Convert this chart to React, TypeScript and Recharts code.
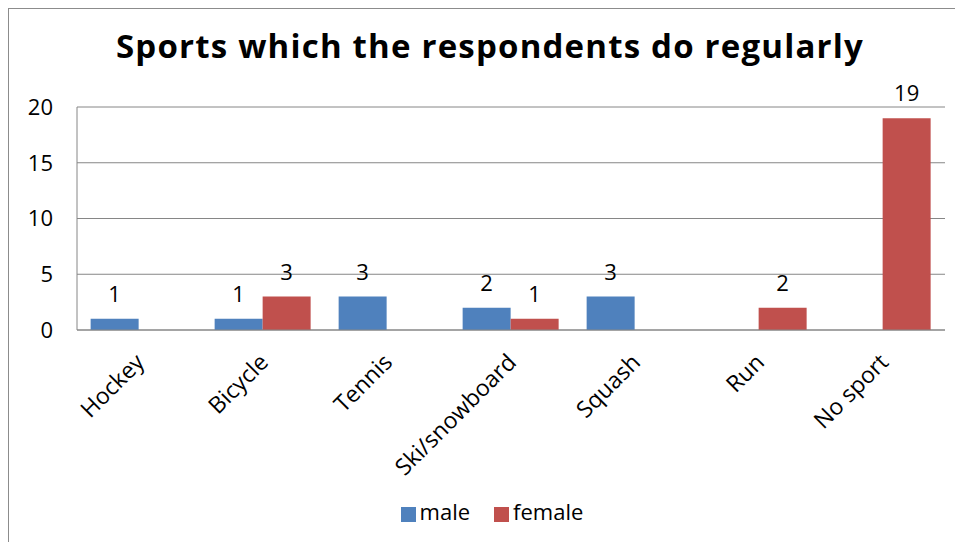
import React from 'react';
import { BarChart, Bar, XAxis, YAxis, CartesianGrid, Legend, LabelList } from 'recharts';

const categories = ['Hockey', 'Bicycle', 'Tennis', 'Ski/snowboard', 'Squash', 'Run', 'No sport'];
const maleValues = [1, 1, 3, 2, 3, null, null];
const femaleValues = [null, 3, null, 1, null, 2, 19];
const yTicks = [0, 5, 10, 15, 20];
const title = 'Sports which the respondents do regularly';

const data = categories.map((c, i) => ({ name: c, male: maleValues[i], female: femaleValues[i] }));

const FONT = '"Open Sans", Lato, sans-serif';
const MALE = '#4F81BD';
const FEMALE = '#C0504D';
const GRID = '#868686';
const seriesOrder = ['male', 'female'];

const XTick = (props: any) => {
  const { x, y, payload } = props;
  return (
    <g transform={`translate(${x + 1},${y + 20})`}>
      <text transform="rotate(-45)" textAnchor="end" fontSize={23} fill="#000" fontFamily={FONT} dy="0.35em">
        {payload.value}
      </text>
    </g>
  );
};

const fmt = (v: any) => (v ? v : '');

export default function App() {
  return (
    <div
      style={{
        position: 'relative',
        width: 954,
        height: 533,
        borderLeft: '1px solid #8c8c8c',
        borderTop: '1px solid #8c8c8c',
        background: '#fff',
        fontFamily: FONT,
      }}
    >
      <div
        style={{
          position: 'absolute',
          top: 17,
          left: 4,
          width: 954,
          textAlign: 'center',
          fontSize: 33,
          letterSpacing: 1.2,
          lineHeight: 1.2,
          fontWeight: 700,
          color: '#000',
          fontFamily: FONT,
          zIndex: 2,
        }}
      >
        {title}
      </div>
      <BarChart
        width={954}
        height={533}
        data={data}
        margin={{ top: 98, right: 18, left: 0, bottom: 16 }}
        barGap={0}
        barCategoryGap="11%"
      >
        <CartesianGrid vertical={false} stroke={GRID} />
        <XAxis
          dataKey="name"
          height={166}
          interval={0}
          tickLine={false}
          axisLine={{ stroke: GRID }}
          tick={<XTick />}
        />
        <YAxis
          width={68}
          domain={[0, 20]}
          ticks={yTicks}
          tickLine={false}
          tickMargin={18}
          axisLine={{ stroke: GRID }}
          tick={{ fontSize: 22, fill: '#000', fontFamily: FONT }}
        />
        <Legend
          verticalAlign="bottom"
          align="center"
          iconType="square"
          iconSize={15}
          itemSorter={(item: any) => seriesOrder.indexOf(item.dataKey)}
          wrapperStyle={{ fontSize: 22, fontFamily: FONT, height: 30, paddingLeft: 27 }}
          formatter={(value: any) => <span style={{ color: '#000', marginRight: 14 }}>{value}</span>}
        />
        <Bar dataKey="male" name="male" fill={MALE} isAnimationActive={false}>
          <LabelList dataKey="male" position="top" offset={17} formatter={fmt} style={{ fontSize: 22, fill: '#000', fontFamily: FONT }} />
        </Bar>
        <Bar dataKey="female" name="female" fill={FEMALE} isAnimationActive={false}>
          <LabelList dataKey="female" position="top" offset={17} formatter={fmt} style={{ fontSize: 22, fill: '#000', fontFamily: FONT }} />
        </Bar>
      </BarChart>
    </div>
  );
}
